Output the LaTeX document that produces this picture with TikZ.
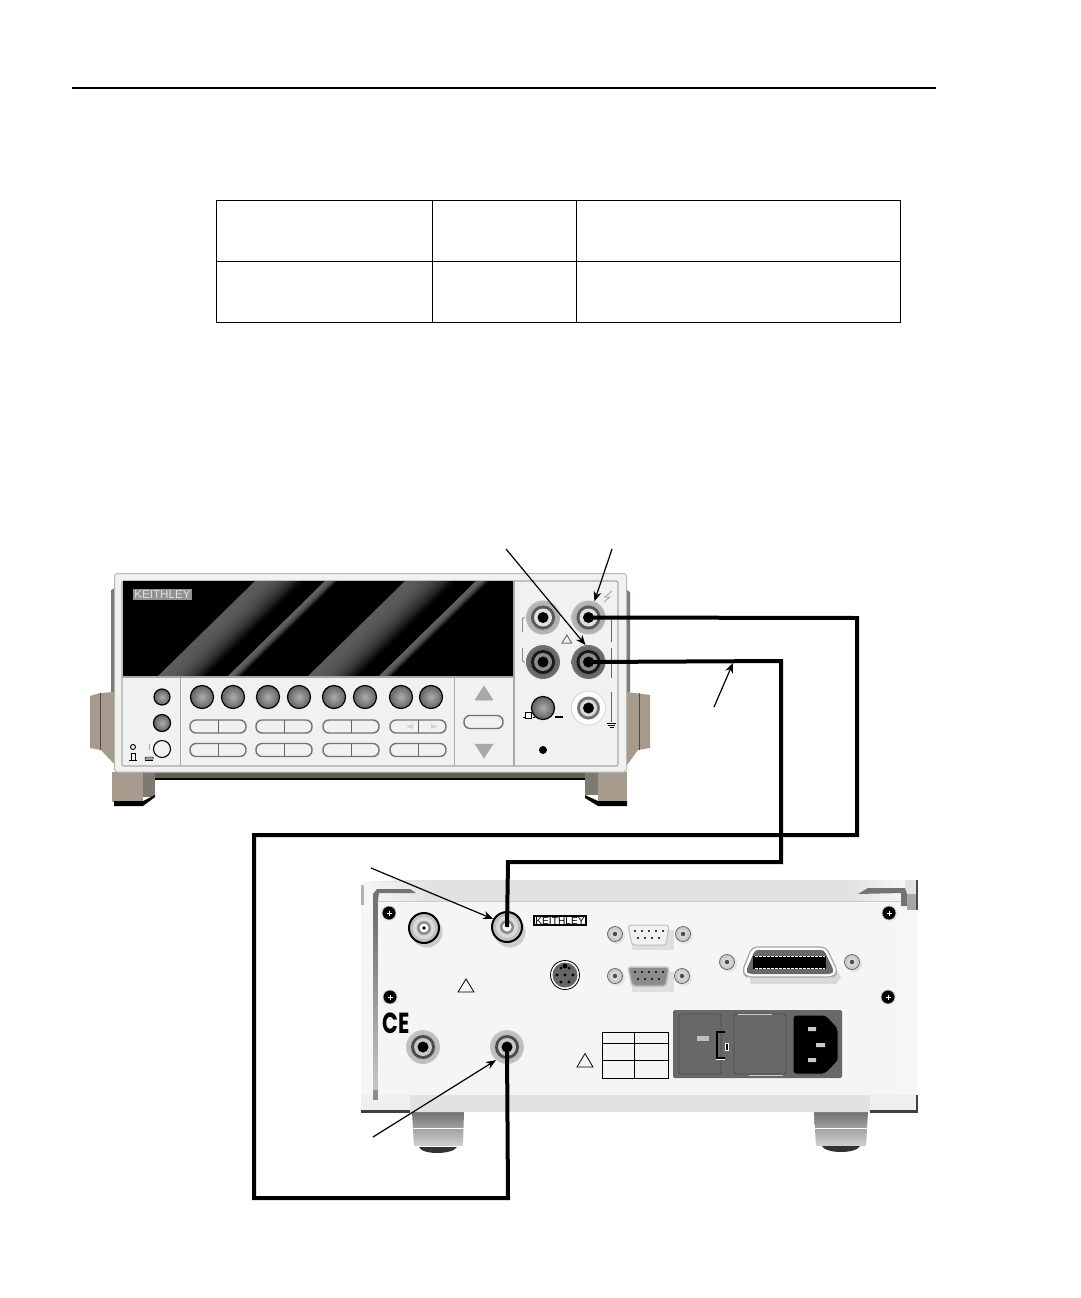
\documentclass[tikz,border=0pt]{standalone}
\usepackage{fontspec}
\setmainfont{Liberation Sans}
\newfontfamily\cefont{Poppins}
\usetikzlibrary{arrows.meta,calc}
\definecolor{handletan}{HTML}{A59A8C}
\definecolor{handledark}{HTML}{7F7A70}
\definecolor{panelgray}{HTML}{F1F1F1}
\definecolor{framegray}{HTML}{E2E2E2}
\definecolor{edgegray}{HTML}{A8A8A8}
\definecolor{modgray}{HTML}{686868}
\tikzset{
  x=1pt,y=-1pt,
  rulestyle/.style={line width=1pt,black},
  cable/.style={line width=4pt,black,line join=miter},
  callout/.style={line width=1.2pt,black,-{Stealth[length=10pt,width=8pt]}},
  pushbtn/.style={circle,draw=black,line width=1.2pt,inner sep=0,shading=radial,inner color=black!32,outer color=black!62},
  pillbtn/.style={draw=black!55,line width=1.4pt,fill=panelgray,rounded corners=6pt},
  softtri/.style={fill=edgegray,draw=gray!70,line width=.5pt,line join=round},
  warntri/.style={draw=black,line width=.8pt,line join=miter},
  thinsym/.style={line width=.9pt,black},
  screwnode/.style={circle,inner sep=0,minimum size=14pt,fill=black,draw=gray!45,line width=.8pt},
  hexnode/.style={circle,inner sep=0,minimum size=15pt,fill=gray!40,draw=black!60,line width=.8pt},
  jacknode/.style={circle,inner sep=0,minimum size=34pt},
  bncnode/.style={circle,inner sep=0,minimum size=30pt,fill=black!25,draw=black,line width=2pt},
}
% jack: name, x, y, outer colour (rim), outer colour (centre), ring, inner ring
\newcommand\jack[7]{%
  \node[jacknode,shading=radial,inner color=#5,outer color=#4] (#1) at (#2,#3) {};
  \fill[#6] (#1.center) circle (12);
  \fill[#7] (#1.center) circle (9);
  \fill[black] (#1.center) circle (5.5);
}
% diagonal soft band on the display: bottom-left x, width, peak brightness
\newcommand\band[3]{%
  \foreach \i in {0,...,23}{%
    \pgfmathsetmacro\pv{#3*(1-pow((\i+.5)/24,2.5))}%
    \pgfmathsetmacro\xa{#1+#2*\i/24}%
    \pgfmathsetmacro\xb{#1+#2*(\i+1.3)/24}%
    \fill[white!\pv!black] (\xa,677) -- (\xa+98,581) -- (\xb+98,581) -- (\xb,677) -- cycle;
  }%
}
\newcommand\screwmark[1]{%
  \draw[white,line width=.7pt] ($(#1)+(-2.5,0)$) -- ($(#1)+(2.5,0)$) ($(#1)+(0,-2.5)$) -- ($(#1)+(0,2.5)$);
}
\begin{document}
\begin{tikzpicture}
\useasboundingbox (0,0) rectangle (1080,1298);
\fill[white] (0,0) rectangle (1080,1298);
% top rule
\draw[line width=2pt] (72,88) -- (936,88);
% table
\draw[rulestyle] (216.5,200.5) rectangle (900.5,322);
\draw[rulestyle] (216.5,261) -- (900.5,261) (432,200.5) -- (432,322) (576.5,200.5) -- (576.5,322);

%% ---------- FRONT INSTRUMENT ----------
% handles
\fill[handledark] (111,590) -- (115,588) -- (115,692) -- (111,692) -- cycle;
\fill[handletan] (90,696) -- (100,693) -- (115,692) -- (115,765) -- (101,750) -- (90,748) -- cycle;
\draw[black!70,line width=.5pt] (100,693) -- (100,750);
\fill[handledark] (627,590) -- (630,592) -- (630,692) -- (627,692) -- cycle;
\fill[handletan] (627,692) -- (650,695) -- (650,748) -- (638,750) -- (627,765) -- cycle;
\draw[black!70,line width=.5pt] (639,693) -- (639,750);
% shadow under the body
\fill[gray!75!olive!60!black] (155,772) rectangle (585,778);
\fill[black] (155,778) rectangle (585,779.5);
% feet
\fill[handledark] (143,772) rectangle (155,797);
\fill[handletan] (112,772) rectangle (143,802);
\fill[black] (114,801) -- (143,801) -- (155,795) -- (155,797) -- (143,806) -- (114,806) -- cycle;
\fill[handledark] (585,772) rectangle (598,795);
\fill[handletan] (598,772) rectangle (627,802);
\fill[black] (585,795) -- (598,801) -- (627,801) -- (627,806) -- (598,806) -- (585,798) -- cycle;
% body
\draw[fill=panelgray,draw=gray!55,line width=1pt,rounded corners=3pt] (114.5,573.5) rectangle (626.5,772);
\draw[fill=panelgray,draw=edgegray,line width=1.2pt,rounded corners=2pt] (122,581) rectangle (618,766);
% display
\begin{scope}
\clip (123,581.5) rectangle (513,677);
\fill[black] (123,581) rectangle (513,677);
\band{157}{48}{36}
\band{227}{13}{42}
\band{307}{50}{36}
\band{378}{13}{42}
\end{scope}
\node[fill=gray!85,text=white!88!black,font=\fontsize{11.6}{13}\selectfont,inner xsep=1.5pt,inner ysep=1.2pt] (brandfront) at (162.5,594.5) {KEITHLEY};
% dividers
\draw[edgegray,line width=1.2pt] (122,677) -- (514,677);
\draw[edgegray,line width=1.2pt] (180.5,677) -- (180.5,766) (454.5,677) -- (454.5,766) (514,581) -- (514,766);
% round buttons
\foreach \nm/\xx in {a/202,b/233,c/268,d/299,e/334,f/365,g/401,h/431}
  \node[pushbtn,minimum size=23pt] (btn\nm) at (\xx,697) {};
\node[pushbtn,minimum size=16pt] (btnsa) at (162,697) {};
\node[pushbtn,minimum size=17pt] (btnsb) at (162,723) {};
\node[circle,draw=black,line width=1.1pt,fill=panelgray,inner sep=0,minimum size=17pt] (btnpwr) at (162,749) {};
% pill buttons
\foreach \xx in {190,256,323,390}{
  \foreach \yy in {726.5,750}{
    \draw[pillbtn] (\xx,\yy-6.5) rectangle (\xx+56,\yy+6.5);
    \draw[black!60,line width=.9pt] (\xx+28,\yy-6.5) -- (\xx+28,\yy+6.5);
  }
}
\draw[pillbtn] (464,715.5) rectangle (503,728.5);
\fill[gray!35] (406,726.5) -- (413,724) -- (413,729) -- cycle (431,724) -- (438,726.5) -- (431,729) -- cycle;
% up/down
\draw[softtri] (475,700) -- (484,686) -- (493,700) -- cycle;
\draw[softtri] (475,744) -- (493,744) -- (484,758) -- cycle;
% power symbols
\draw[thinsym] (133,747) circle (2.5);
\draw[thinsym] (129,760) -- (137,760) (131,760) -- (131,753) -- (135,753) -- (135,760);
\draw[gray!70,line width=.9pt] (149,744) -- (149,750);
\draw[thinsym] (145,760) -- (153,760);
\draw[fill=gray!50,line width=.5pt] (145,759) -- (146,757) -- (153,757) -- (153,759) -- cycle;
% input area
\jack{jfa}{543}{617.5}{gray!55}{gray!90}{black!65}{black!12}
\jack{jfb}{588.5}{617.5}{gray!55}{gray!90}{black!65}{black!12}
\jack{jfc}{543}{662}{black!55}{black!75}{black!90}{black!45}
\jack{jfd}{588.5}{662}{black!55}{black!75}{black!90}{black!45}
\node[circle,inner sep=0,minimum size=34pt,fill=white,draw=gray!40,line width=.6pt] (jfe) at (588.5,708) {};
\fill[black!55] (jfe.center) circle (11.5);
\fill[white!85!black] (jfe.center) circle (8.5);
\fill[black] (jfe.center) circle (5.5);
\node[pushbtn,minimum size=23pt] (btnin) at (543,708) {};
\fill[black] (543,750) circle (4);
\draw[black!45,line width=.9pt] (525,617.5) -- (522.5,618.5) -- (522.5,632) (522.5,648) -- (522.5,661) -- (525,662.5);
\draw[thinsym,black!60] (611.5,620) -- (611.5,642) (611.5,648) -- (611.5,678) (611.5,692) -- (611.5,722);
\draw[thinsym] (607,723.5) -- (616,723.5);
\draw[thinsym] (608,725.5) -- (615,725.5) (609.5,727.5) -- (613.5,727.5);
\draw[black!55,line width=1pt] (562,643) -- (567,635) -- (571.5,643) -- cycle;
\draw[gray!65,line width=1pt] (612,591) -- (605,597) -- (610,597) -- (604,602);
\draw[thinsym] (523,717) -- (525,717) (533,717) -- (535,717);
\draw[thinsym,fill=white] (525,712.5) rectangle (531,718.5);
\draw[line width=1.1pt] (555,717) -- (563,717);

%% ---------- REAR INSTRUMENT ----------
% feet
\shade[top color=black!55,bottom color=black!18] (412,1112) -- (464,1112) -- (463,1146) -- (414,1146) -- cycle;
\draw[white,line width=.7pt] (412.5,1128) -- (463.5,1128);
\fill[black!80] (419,1147) .. controls (422,1155) and (452,1155) .. (457,1147) -- cycle;
\shade[top color=black!55,bottom color=black!18] (814,1112) -- (868,1112) -- (866,1146) -- (816,1146) -- cycle;
\draw[white,line width=.7pt] (815,1128) -- (867,1128);
\fill[black!80] (822,1146) .. controls (826,1154) and (856,1154) .. (860,1146) -- cycle;
% frame
\fill[framegray] (361,885) -- (364,882) -- (410,880) -- (915,880) -- (917,884) -- (917,1112) -- (361,1112) -- cycle;
\shade[left color=white!70!framegray,right color=framegray] (361,882) rectangle (432,901);
\shade[left color=framegray,right color=white!70!framegray] (850,880) rectangle (905,901);
\fill[white!70!framegray] (361,901) rectangle (378,1112);
\fill[white!70!framegray] (901,901) rectangle (917,1112);
\fill[white!45!framegray] (870,1095) rectangle (917,1112);
\fill[white!45!framegray] (361,1095) rectangle (410,1112);
% dark rims
\fill[black!75] (361,1109.5) rectangle (410,1112.5);
\fill[black!75] (870,1109.5) rectangle (917.5,1112.5);
\fill[black!75] (915.5,1095) rectangle (917.5,1112.5);
\fill[black!55] (373,894) -- (377,889) -- (410,889) -- (416,893) -- (379,893) -- (378,900) -- (378,920) -- (373,920) -- cycle;
\shade[top color=black!55,bottom color=black!22] (373,920) rectangle (378,1090);
\fill[black!45] (373,1090) rectangle (378,1100);
\fill[black!30] (361,885) rectangle (364,905);
\fill[black!55] (858,894) -- (868,888) -- (905,888) -- (907,894) -- (907,906) -- (901,906) -- (901,893) -- cycle;
\fill[black!35] (907,894) rectangle (917,910);
\fill[black!70] (915.5,880) rectangle (917.5,910);
% panel
\fill[panelgray!70!white] (378,902) -- (901,902) -- (901,1095) -- (378,1095) -- cycle;
\draw[edgegray!60,line width=.8pt] (378,901.5) -- (901,901.5);
% BNC
\fill[gray!40] (427,932) circle (15.5);
\node[bncnode] (bnca) at (424,928) {};
\fill[white!85!black] (bnca.center) circle (11);
\fill[black!45] (bnca.center) circle (7);
\fill[white] (bnca.center) circle (4.5);
\fill[black] (bnca.center) circle (1.8);
\fill[gray!40] (510,932) circle (15.5);
\node[bncnode] (bncb) at (507,927) {};
\fill[white!85!black] (bncb.center) circle (11);
\fill[black!45] (bncb.center) circle (7);
\fill[white] (bncb.center) circle (4.5);
% screws
\node[screwnode] (sca) at (389,913) {};
\node[screwnode] (scb) at (390,997) {};
\node[screwnode] (scc) at (889,913) {};
\node[screwnode] (scd) at (888,997) {};
\foreach \s in {sca,scb,scc,scd} \screwmark{\s};
% brand
\node[draw=black,line width=1.8pt,fill=white,font=\fontsize{10.2}{12}\selectfont,inner xsep=1.5pt,inner ysep=1pt] (brandrear) at (560,920.5) {KEITHLEY};
% DB9s
\fill[gray!25] (632,930) rectangle (674,950);
\draw[gray!50,fill=panelgray,line width=1pt,rounded corners=3pt] (628,925) -- (669,925) -- (666,945) -- (632,945) -- cycle;
\foreach \xx in {635,642,649,656,663} \fill[black] (\xx,931) circle (1.2);
\foreach \xx in {638,645,652,659} \fill[black] (\xx,938) circle (1.2);
\fill[gray!25] (632,972) rectangle (674,992);
\draw[gray!50,fill=gray!90,line width=1.5pt,rounded corners=3pt] (628,967) -- (669,967) -- (666,986) -- (632,986) -- cycle;
\foreach \xx in {635,642,649,656,663} \fill[black] (\xx,972) circle (1.2);
\foreach \xx in {638,645,652,659} \fill[black] (\xx,979) circle (1.2);
\foreach \nm/\xx/\yy in {ha/615/934,hb/683/934,hc/615/976,hd/682/976,he/727/962,hf/852/962}{
  \fill[gray!20] (\xx+2,\yy+2) circle (8);
  \node[hexnode] (\nm) at (\xx,\yy) {};
  \fill[white!85!black] (\nm.center) circle (4.5);
  \fill[black!70] (\nm.center) circle (2.2);
}
% DIN
\node[circle,draw=black,line width=.8pt,fill=white,inner sep=0,minimum size=29pt] (din) at (565,975) {};
\fill[black!60] (din.center) circle (12.5);
\foreach \a in {0,60,...,300} \fill[black] ($(din.center)+(\a:8)$) circle (1.6);
\fill[black] (din.center) circle (1.6);
\fill[black] (565,966) circle (2.5);
% triangles
\draw[warntri] (458,992) -- (466,979) -- (474,992) -- cycle;
\draw[warntri] (577,1067) -- (585,1053.5) -- (593,1067) -- cycle;
% CE
\node[font=\cefont\bfseries\fontsize{29}{30}\selectfont,inner sep=0,xscale=.72] (cemark) at (396.5,1023) {CE};
% rear jacks
\jack{jra}{423}{1047}{gray!45}{gray!80}{black!70}{black!22}
\jack{jrb}{507}{1047}{gray!45}{gray!80}{black!70}{black!22}
% small table
\draw[line width=.9pt] (602,1032) rectangle (668,1078);
\draw[line width=.9pt] (602,1043) -- (668,1043) (602,1060) -- (668,1060) (634,1032) -- (634,1078);
% GPIB
\fill[gray!30] (750,957) -- (828,957) -- (841,977) -- (836,984) -- (750,984) -- cycle;
\draw[fill=white,draw=gray!70,line width=1.2pt,rounded corners=5pt] (752,947) -- (826,947) -- (838,972) -- (833,977) -- (747,977) -- (742,972) -- cycle;
\fill[modgray,rounded corners=3pt] (755,950) -- (824,950) -- (834,971) -- (831,974) -- (749,974) -- (746,971) -- cycle;
\fill[black] (753,956) rectangle (826,968.5);
\draw[white,line width=.7pt,dash pattern=on 2.5pt off 1.5pt] (755,956.3) -- (825,956.3) (755,968.2) -- (825,968.2);
% power module
\fill[modgray,rounded corners=2pt] (673,1010) rectangle (842,1078);
\draw[black!70,fill=modgray,line width=.7pt,rounded corners=2pt] (679,1014) rectangle (721,1074);
\draw[black!70,fill=modgray,line width=.7pt,rounded corners=2pt] (734,1014) rectangle (786,1074);
\draw[white!80!black,line width=.7pt] (738,1014) -- (772,1014) (749,1075) -- (783,1075);
\fill[gray!50!white] (697,1036) rectangle (709,1041);
\draw[black,line width=1.5pt] (725,1032) -- (717,1032) -- (717,1058) -- (725,1058);
\draw[white,line width=.6pt] (716,1059) -- (725,1059);
\fill[white] (724.5,1042.5) rectangle (729,1050.5);
\fill[black] (725.5,1043.5) rectangle (728,1049.5);
\draw[black!60,fill=black,line width=1pt,rounded corners=3pt] (793,1015) -- (826,1015) -- (838,1028) -- (838,1062) -- (825,1074) -- (793,1074) -- cycle;
\fill[modgray] (838,1060) -- (838,1072) -- (826,1073) -- cycle;
\fill[white!80!black] (808,1027) rectangle (816,1031) (816,1043) rectangle (825,1047) (808,1058) rectangle (816,1062);

%% ---------- CABLES ----------
\coordinate (ra) at (857,618);
\coordinate (rb) at (857,835);
\coordinate (rc) at (254,835);
\coordinate (rd) at (254,1198);
\coordinate (re) at (508,1198);
\coordinate (sa) at (781,661);
\coordinate (sb) at (781,862);
\coordinate (sc) at (508,862);
\draw[cable] (jfb.center) -- (ra) -- (rb) -- (rc) -- (rd) -- (re) -- (jrb.center);
\draw[cable] (jfd.center) -- (sa) -- (sb) -- (sc) -- (bncb.center);

%% ---------- CALLOUTS ----------
\coordinate (la) at (506,549);
\coordinate (lb) at (612,549);
\coordinate (lc) at (714,707);
\coordinate (ld) at (371,868);
\coordinate (le) at (373,1137);
\coordinate (tc) at (733,663);
\draw[callout] (la) -- (jfd.100);
\draw[callout] (lb) -- (jfb.70);
\draw[callout] (lc) -- (tc);
\draw[callout] (ld) -- (bncb.150);
\draw[callout] (le) -- (jrb.230);
\end{tikzpicture}
\end{document}
